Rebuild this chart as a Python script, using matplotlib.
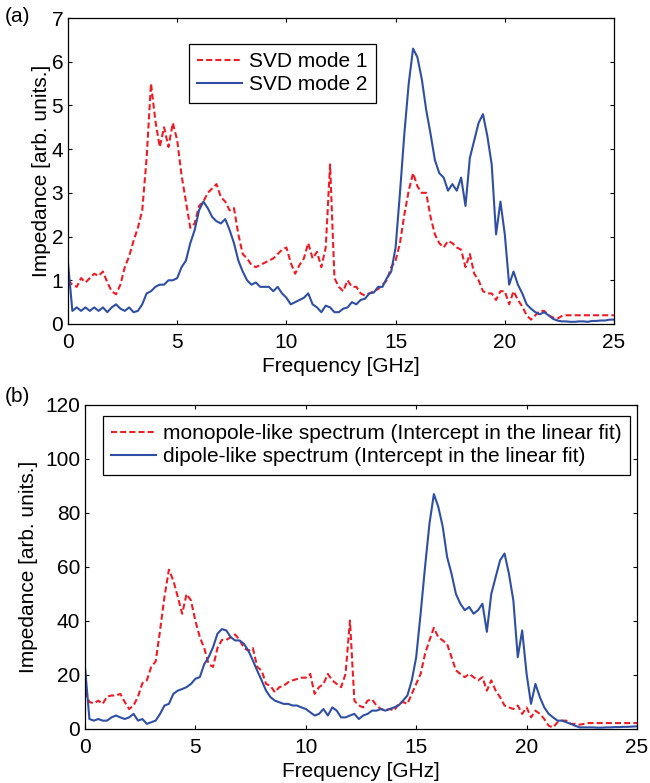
import numpy as np
import matplotlib
matplotlib.use("Agg")
from matplotlib import pyplot as plt

plt.rcParams['font.family'] = ['Liberation Sans', 'DejaVu Sans']

# frequency grid [GHz], 0.2 GHz step
freq = np.round(np.arange(0, 25.001, 0.2), 1)

# panel (a): SVD modes
svd_mode1 = [
    1.0, 0.9, 0.85, 1.05, 0.95, 1.05, 1.15, 1.1, 1.2, 0.95,
    0.75, 0.68, 0.9, 1.3, 1.55, 1.9, 2.2, 2.6, 3.8, 5.5,
    4.65, 4.05, 4.5, 4.05, 4.6, 4.2, 3.4, 2.8, 2.2, 2.3,
    2.7, 2.8, 3.0, 3.1, 3.2, 2.9, 2.8, 2.6, 2.65, 2.05,
    1.6, 1.5, 1.35, 1.3, 1.35, 1.4, 1.45, 1.5, 1.6, 1.7,
    1.75, 1.4, 1.15, 1.35, 1.5, 1.85, 1.5, 1.65, 1.3, 1.75,
    3.65, 1.05, 0.85, 0.75, 1.0, 0.85, 0.85, 0.7, 0.65, 0.7,
    0.75, 0.8, 0.9, 1.0, 1.3, 1.45, 1.85, 2.5, 3.05, 3.45,
    3.15, 3.0, 3.0, 2.45, 2.05, 1.85, 1.75, 1.9, 1.85, 1.75,
    1.7, 1.3, 1.6, 1.15, 1.0, 0.75, 0.7, 0.7, 0.55, 0.75,
    0.75, 0.45, 0.75, 0.55, 0.4, 0.2, 0.1, 0.2, 0.3, 0.3,
    0.2, 0.15, 0.12, 0.18, 0.2, 0.2, 0.2, 0.2, 0.2, 0.2,
    0.2, 0.2, 0.2, 0.2, 0.2, 0.2,
]
svd_mode2 = [
    1.4, 0.3, 0.38, 0.3, 0.38, 0.3, 0.38, 0.3, 0.38, 0.27,
    0.38, 0.45, 0.35, 0.3, 0.38, 0.27, 0.3, 0.45, 0.7, 0.75,
    0.85, 0.9, 0.9, 1.0, 1.0, 1.05, 1.3, 1.45, 1.85, 2.15,
    2.6, 2.8, 2.65, 2.45, 2.35, 2.3, 2.4, 2.15, 1.85, 1.45,
    1.2, 1.0, 0.9, 0.95, 0.85, 0.85, 0.85, 0.75, 0.85, 0.7,
    0.6, 0.45, 0.5, 0.55, 0.6, 0.7, 0.45, 0.38, 0.27, 0.42,
    0.38, 0.27, 0.27, 0.35, 0.38, 0.5, 0.45, 0.55, 0.58, 0.7,
    0.72, 0.85, 0.85, 1.05, 1.2, 1.75, 3.0, 4.35, 5.5, 6.3,
    6.1, 5.6, 4.9, 4.35, 3.75, 3.45, 3.35, 3.05, 3.2, 3.05,
    3.35, 2.7, 3.8, 4.2, 4.6, 4.8, 4.3, 3.65, 2.05, 2.8,
    2.05, 0.9, 1.2, 0.9, 0.7, 0.45, 0.35, 0.27, 0.22, 0.27,
    0.2, 0.12, 0.08, 0.06, 0.06, 0.05, 0.05, 0.06, 0.06, 0.05,
    0.07, 0.07, 0.08, 0.08, 0.1, 0.1,
]

# panel (b): intercept spectra
monopole = [
    14, 10, 9.5, 10.5, 9.3, 12, 12.4, 12.4, 13, 10,
    7.4, 8.7, 12, 17, 18, 23, 25, 36.5, 49, 59,
    55, 49, 42.7, 50, 47.6, 40, 34, 30, 24, 23,
    30, 33, 33, 34, 35, 33, 30, 29, 30, 23,
    21.6, 16.7, 16, 13.6, 15.5, 16, 17.3, 18, 18.5, 19,
    19, 20.4, 13, 15.5, 16.7, 20.4, 18, 16.7, 15.5, 20.4,
    40.2, 10.5, 8.7, 8, 10.5, 11, 8.7, 7.4, 7.0, 7.4,
    6.8, 9.3, 10, 9.3, 13, 16.7, 20.4, 27.8, 32.8, 37.5,
    34, 32.8, 31.5, 26.6, 21.7, 20.4, 19.2, 20.4, 19.2, 18,
    19.2, 14.2, 18, 14.2, 11.8, 8.7, 8, 7.4, 8.7, 5.6,
    8, 4.3, 6.8, 5.6, 3.7, 1.2, 0.6, 2.5, 3.1, 3.1,
    1.9, 1.9, 1.6, 1.9, 2.2, 2.2, 2.2, 2.2, 2.2, 2.2,
    2.2, 2.2, 2.2, 2.2, 2.2, 2.2,
]
dipole = [
    23, 3.7, 3.1, 3.7, 3.1, 3.1, 4.3, 5, 4.3, 3.7,
    4.3, 5.6, 3.1, 3.7, 1.9, 2.5, 3.1, 5.6, 8.7, 9.3,
    13, 14.2, 14.8, 15.5, 16.7, 18.6, 19.2, 24, 26.6, 30.3,
    35.3, 37, 36.5, 34, 32.8, 32.8, 31.5, 29, 25.4, 21.6,
    18, 14.2, 11.8, 10.5, 9.9, 9.3, 9.3, 8.7, 8.7, 8,
    7.4, 6.2, 5, 5.6, 7.4, 5, 8, 6.8, 4.3, 4.3,
    5, 5.6, 3.7, 5, 5.6, 6.8, 6.8, 7.4, 6.8, 7.4,
    8, 8.7, 10.5, 12.4, 18, 26.6, 42.7, 60, 76, 87,
    82.3, 75, 63.7, 57.5, 50, 46.4, 44, 45.2, 42.7, 44,
    46.4, 36, 50, 56.3, 62.5, 65, 57.5, 47.6, 26.6, 36.5,
    20.4, 9.3, 16.7, 11.8, 8, 5.6, 4.3, 3.1, 3.1, 2.5,
    1.9, 1.2, 0.6, 0.6, 0.6, 0.6, 0.5, 0.5, 0.6, 0.6,
    0.7, 0.7, 0.8, 0.8, 0.9, 1.0,
]

RED = '#ee1c25'
BLUE = '#2e4fa3'
FS = 15
DASH = (2.9, 1.5)

fig = plt.figure(figsize=(6.5, 7.83), dpi=100)
ax1 = fig.add_axes([68 / 650, 1 - 324 / 783, 546 / 650, 306 / 783])
ax2 = fig.add_axes([85 / 650, 1 - 729 / 783, 552 / 650, 324 / 783])


def style_axis(ax, ymax, ystep, ylab_x):
    ax.set_xlim(0, 25)
    ax.set_ylim(0, ymax)
    ax.set_xticks(np.arange(0, 26, 5))
    ax.set_yticks(np.arange(0, ymax + 1, ystep))
    ax.tick_params(direction='in', top=True, right=True, length=3,
                   width=0.8, labelsize=FS)
    ax.tick_params(axis='x', pad=6.5)
    ax.tick_params(axis='y', pad=3.5)
    for s in ax.spines.values():
        s.set_linewidth(0.9)
    ax.set_xlabel('Frequency [GHz]', fontsize=FS, labelpad=3.5)
    ax.set_ylabel('Impedance [arb. units.]', fontsize=FS)
    ax.yaxis.set_label_coords(ylab_x, 0.5)


def add_legend(ax, x_px, y_px):
    leg = ax.legend(loc='upper left', bbox_to_anchor=(x_px / 650, 1 - y_px / 783),
                    bbox_transform=fig.transFigure, fontsize=FS, fancybox=False,
                    edgecolor='black', framealpha=1, borderaxespad=0,
                    handlelength=2.15, handletextpad=0.35, borderpad=0.4,
                    labelspacing=0.2)
    leg.get_frame().set_linewidth(0.9)


ax1.plot(freq, svd_mode1, '--', dashes=DASH, color=RED, lw=1.5, label='SVD mode 1')
ax1.plot(freq, svd_mode2, '-', color=BLUE, lw=1.5, label='SVD mode 2')
style_axis(ax1, 7, 1, -0.032)
add_legend(ax1, 189, 44)

ax2.plot(freq, monopole, '--', dashes=DASH, color=RED, lw=1.5,
         label='monopole-like spectrum (Intercept in the linear fit)')
ax2.plot(freq, dipole, '-', color=BLUE, lw=1.5,
         label='dipole-like spectrum (Intercept in the linear fit)')
style_axis(ax2, 120, 20, -0.085)
add_legend(ax2, 103, 416)

fig.text(5 / 650, 1 - 17 / 783, '(a)', fontsize=FS, va='center', ha='left')
fig.text(5 / 650, 1 - 396 / 783, '(b)', fontsize=FS, va='center', ha='left')

fig.savefig('out.png', dpi=100)
